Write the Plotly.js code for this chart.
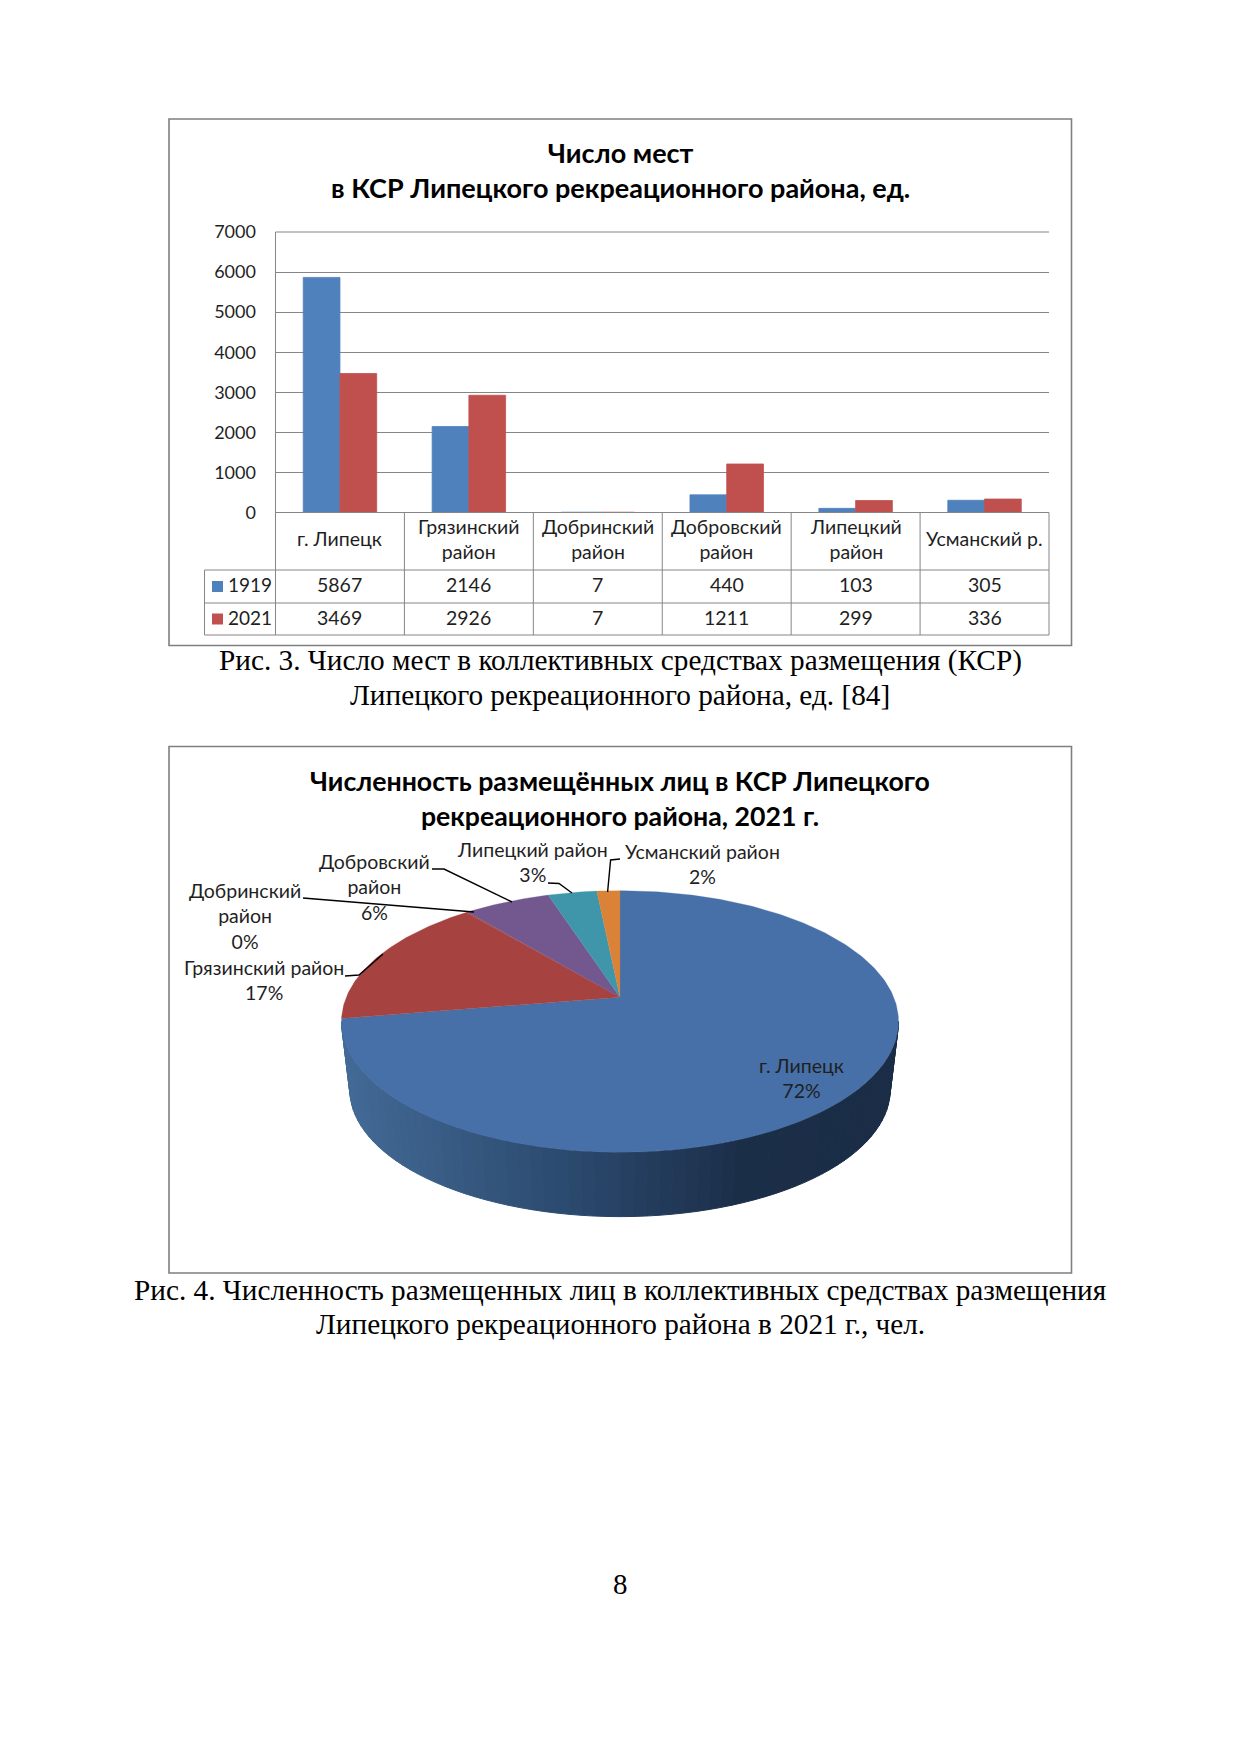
<!DOCTYPE html>
<html><head><meta charset="utf-8">
<script src="https://cdn.plot.ly/plotly-3.0.1.min.js"></script>
<style>html,body{margin:0;padding:0;background:#fff}</style></head>
<body><div id="page" style="width:1241px;height:1754px"></div>
<script>
const categories = ['г. Липецк','Грязинский<br>район','Добринский<br>район','Добровский<br>район','Липецкий<br>район','Усманский р.'];
const series1919 = [5867,2146,7,440,103,305];
const series2021 = [3469,2926,7,1211,299,336];
const yTicks = [0,1000,2000,3000,4000,5000,6000,7000];
const pieNames = ['г. Липецк','Грязинский район','Добринский<br>район','Добровский<br>район','Липецкий район','Усманский район'];
const pieShares = [72.4,16.5,0.1,6.0,3.4,1.6];
const pieColors = ['#4670a7','#a64341','#a64341','#73578f','#3f96ab','#d98238'];
const title1 = 'Число мест<br>в КСР Липецкого рекреационного района, ед.';
const title2 = 'Численность размещённых лиц в КСР Липецкого<br>рекреационного района, 2021 г.';
const cap1 = ['Рис. 3. Число мест в коллективных средствах размещения (КСР)','Липецкого рекреационного района, ед. [84]'];
const cap2 = ['Рис. 4. Численность размещенных лиц в коллективных средствах размещения','Липецкого рекреационного района в 2021 г., чел.'];

const W=1241,H=1754, px=x=>x/W, py=y=>1-y/H;
const SANS='Lato, "Noto Sans", sans-serif', SERIF='"Liberation Serif", serif';
const GREY='#868686', INK='#1f1f1f';
const catKeys = categories.map(c=>c.replace('<br>',' '));

const traces=[
 {type:'bar',name:'1919',x:catKeys,y:series1919,marker:{color:'#4f81bd',line:{color:'#4f81bd',width:0.8}},xaxis:'x',yaxis:'y',hoverinfo:'skip'},
 {type:'bar',name:'2021',x:catKeys,y:series2021,marker:{color:'#c0504d',line:{color:'#c0504d',width:0.8}},xaxis:'x',yaxis:'y',hoverinfo:'skip'}
];

// Perspective pie drawn from pieShares on a page-scaled axis pair
const CX=620,AY=997.2,RA=273.7,RB=126.3,P=0.1855;
const proj=(t,k,dy)=>{const s=Math.sin(t),c=Math.cos(t),d=1+P*c;return [CX+k*RA*s/d,AY+dy-k*RB*c/d];};
const TOTAL=pieShares.reduce((a,b)=>a+b,0);
// wall: f runs 0 at the left rim to 1 at the right rim
const tA=Math.acos(-P), tB=2*Math.PI-tA, N=70;
const stops=[[0,[66,106,150]],[0.45,[41,70,106]],[0.72,[27,46,72]],[1,[26,44,70]]];
const mix=f=>{for(let i=1;i<stops.length;i++){if(f<=stops[i][0]){const a=stops[i-1],b=stops[i],u=(f-a[0])/(b[0]-a[0]);
  return 'rgb('+a[1].map((v,j)=>Math.round(v+(b[1][j]-v)*u)).join(',')+')';}}return 'rgb(26,44,70)';};
for(let i=0;i<N;i++){
  const t0=tA+(tB-tA)*i/N,t1=tA+(tB-tA)*(i+1)/N;
  const q=[proj(t0,1,0),proj(t1,1,0),proj(t1,0.97,69),proj(t0,0.97,69)];
  const xm=(q[0][0]+q[1][0])/2, f=(xm-(CX-278.5))/557;
  const col=mix(Math.max(0,Math.min(1,f)));
  traces.push({type:'scatter',mode:'lines',x:q.map(p=>p[0]).concat(q[0][0]),y:q.map(p=>p[1]).concat(q[0][1]),
    fill:'toself',fillcolor:col,line:{color:col,width:1},xaxis:'x2',yaxis:'y2',hoverinfo:'skip',showlegend:false});
}
// slices
let acc=0;
pieShares.forEach((v,i)=>{
  const a=acc/TOTAL*2*Math.PI,b=(acc+v)/TOTAL*2*Math.PI;acc+=v;
  const xs=[CX],ys=[AY],n=Math.max(2,Math.ceil(v*4));
  for(let j=0;j<=n;j++){const p=proj(a+(b-a)*j/n,1,0);xs.push(p[0]);ys.push(p[1]);}
  xs.push(CX);ys.push(AY);
  traces.push({type:'scatter',mode:'lines',name:pieNames[i].replace('<br>',' '),x:xs,y:ys,fill:'toself',fillcolor:pieColors[i],
    line:{color:pieColors[i],width:0.3},xaxis:'x2',yaxis:'y2',hoverinfo:'skip',showlegend:false});
});

const shapes=[];
const line=(x0,y0,x1,y1,c=GREY,w=1)=>shapes.push({type:'line',xref:'paper',yref:'paper',x0:px(x0),y0:py(y0),x1:px(x1),y1:py(y1),line:{color:c,width:w},layer:'above'});
const rect=(x0,y0,x1,y1)=>shapes.push({type:'rect',xref:'paper',yref:'paper',x0:px(x0),y0:py(y0),x1:px(x1),y1:py(y1),line:{color:'#7f7f7f',width:1.6},fillcolor:'rgba(0,0,0,0)',layer:'below'});
rect(169,119,1071.5,645.5);
rect(169,746.5,1071.5,1273);
// data table grid
const TL=275.5,TR=1049,PW=(TR-TL)/categories.length,T7=232,T0=512.5,T1=570,T2=603,T3=635,LL=204.5;
for(let i=0;i<=categories.length;i++) line(TL+i*PW,T0,TL+i*PW,T3);
line(TL,T0,TR,T0);line(TL,T7,TR,T7);line(LL,T1,TR,T1);line(LL,T2,TR,T2);line(LL,T3,TR,T3);line(LL,T1,LL,T3);
// leaders
const LEAD=[[[345,976],[359,975],[383,954]],[[303,898],[474,912]],[[432,869],[444,869],[512,902]],[[548,883],[559,883.5],[572,893]],[[620,859],[610.6,860],[607.6,892]]];
LEAD.forEach(L=>shapes.push({type:'path',xref:'x2',yref:'y2',path:'M'+L.map(p=>p.join(',')).join('L'),line:{color:'#000',width:1.4},layer:'above'}));

const ann=[];
const T=(x,y,text,size,fam,extra={})=>ann.push(Object.assign({xref:'paper',yref:'paper',x:px(x),y:py(y),text,showarrow:false,xanchor:'center',yanchor:'middle',
   font:{size,family:fam,color:INK},align:'center'},extra));
const BLK=(s,f)=>({font:{size:s,family:f,color:'#000'}});
// titles
T(620,170,'<b>'+title1+'</b>',27,SANS,BLK(27,SANS));
T(620,798,'<b>'+title2+'</b>',26.7,SANS,BLK(26.7,SANS));
// captions
[[660.5,cap1[0]],[695,cap1[1]],[1289.5,cap2[0]],[1323.5,cap2[1]]].forEach(c=>T(620,c[0],c[1],29.25,SERIF,BLK(29.25,SERIF)));
T(620,1584,'8',29,SERIF,BLK(29,SERIF));
// table text
categories.forEach((c,i)=>{
  const s=19.5, f={size:s,family:SANS,color:INK};
  ann.push({xref:'x',yref:'paper',x:catKeys[i],y:py((T0+T1)/2-2.5),text:c,showarrow:false,xanchor:'center',yanchor:'middle',font:f});
  ann.push({xref:'x',yref:'paper',x:catKeys[i],y:py((T1+T2)/2-1.5),text:String(series1919[i]),showarrow:false,xanchor:'center',yanchor:'middle',font:f});
  ann.push({xref:'x',yref:'paper',x:catKeys[i],y:py((T2+T3)/2-1.5),text:String(series2021[i]),showarrow:false,xanchor:'center',yanchor:'middle',font:f});
});
[['1919','#4f81bd',(T1+T2)/2],['2021','#c0504d',(T2+T3)/2]].forEach(r=>{
  shapes.push({type:'rect',xref:'paper',yref:'paper',x0:px(212),x1:px(223),y0:py(r[2]-5.5),y1:py(r[2]+5.5),fillcolor:r[1],line:{width:0},layer:'above'});
  T(249.5,r[2]-1.5,r[0],19,SANS);
});
// pie labels
const LAB=[[801,1078],[264,979.5],[244.5,916],[374,886.5],[532.5,862],[702,864]];
pieNames.forEach((n,i)=>T(LAB[i][0],LAB[i][1],n+'<br>'+Math.round(pieShares[i]/TOTAL*100)+'%',19.5,SANS));

const layout={width:W,height:H,margin:{l:0,r:0,t:0,b:0},paper_bgcolor:'#fff',plot_bgcolor:'rgba(0,0,0,0)',showlegend:false,
 barmode:'group',bargap:0.43,bargroupgap:0,
 xaxis:{domain:[px(TL),px(TR)],type:'category',categoryorder:'array',categoryarray:catKeys,showticklabels:false,ticks:'',showgrid:false,zeroline:false,showline:false,anchor:'y',fixedrange:true},
 yaxis:{domain:[py(T0),py(T7)],range:[0,7000],tickvals:yTicks,ticks:'',ticklabelstandoff:15,tickfont:{size:18,family:SANS,color:INK},
   showgrid:true,gridcolor:GREY,gridwidth:1,zeroline:false,showline:true,linecolor:GREY,linewidth:1,anchor:'x',fixedrange:true},
 xaxis2:{domain:[0,1],range:[0,W],visible:false,anchor:'y2',fixedrange:true},
 yaxis2:{domain:[0,1],range:[H,0],visible:false,anchor:'x2',fixedrange:true},
 shapes,annotations:ann};
Plotly.newPlot('page',traces,layout,{staticPlot:true,displayModeBar:false});
</script></body></html>
